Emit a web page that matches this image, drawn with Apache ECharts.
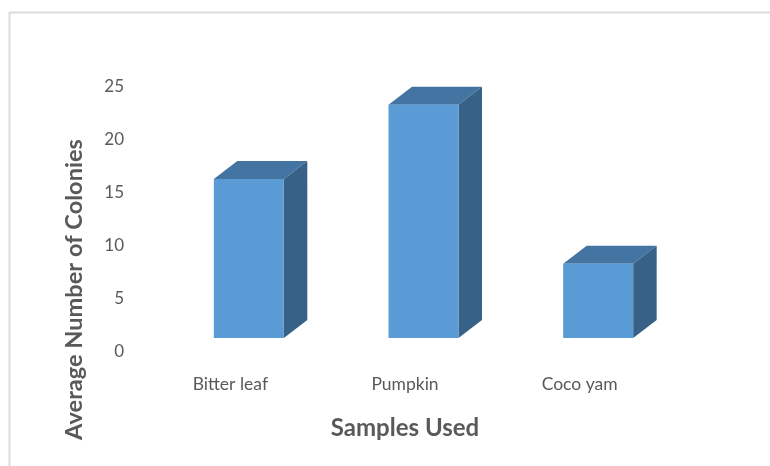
<!DOCTYPE html>
<html>
<head>
<meta charset="utf-8">
<style>html,body{margin:0;padding:0;background:#fff}#c{width:770px;height:466px}</style>
<script src="https://cdn.jsdelivr.net/npm/echarts@6/dist/echarts.min.js"></script>
</head>
<body>
<div id="c"></div>
<script>
const categories = ['Bitter leaf', 'Pumpkin', 'Coco yam'];
const colonies = [15, 22, 7];
const xTitle = 'Samples Used';
const yTitle = 'Average Number of Colonies';

const chart = echarts.init(document.getElementById('c'), null, {renderer: 'canvas'});
const DEPTH_X = 23.5, DEPTH_Y = 18, BAR_W = 70;

function renderBox(params, api) {
  const top = api.coord([api.value(0), api.value(1)]);
  const base = api.coord([api.value(0), 0]);
  const l = top[0] - BAR_W / 2 - 0.5, r = l + BAR_W, t = top[1], b = base[1];
  return {
    type: 'group',
    children: [
      {type: 'polygon', shape: {points: [[l, t], [r, t], [r + DEPTH_X, t - DEPTH_Y], [l + DEPTH_X, t - DEPTH_Y]]},
        style: {fill: '#4475a2'}},
      {type: 'polygon', shape: {points: [[r, t], [r + DEPTH_X, t - DEPTH_Y], [r + DEPTH_X, b - DEPTH_Y], [r, b]]},
        style: {fill: '#386188'}},
      {type: 'rect', shape: {x: l, y: t, width: BAR_W, height: b - t},
        style: {fill: '#5b9bd5'}}
    ]
  };
}

chart.setOption({
  backgroundColor: '#ffffff',
  animation: false,
  textStyle: {fontFamily: 'Lato'},
  grid: {left: 162, top: 73, width: 524, height: 265, containLabel: false},
  xAxis: {
    type: 'category',
    data: categories,
    axisLine: {show: false},
    axisTick: {show: false},
    axisLabel: {color: '#595959', fontSize: 17.5, fontFamily: 'Lato', margin: 37, padding: [0, 38, 0, 0]},
    name: xTitle,
    nameLocation: 'middle',
    nameGap: 78,
    nameTextStyle: {color: '#595959', fontSize: 24, fontWeight: 'bold', fontFamily: 'Lato', padding: [0, 38, 0, 0]}
  },
  yAxis: {
    type: 'value',
    min: 0,
    max: 25,
    interval: 5,
    splitLine: {show: false},
    axisLine: {show: false},
    axisTick: {show: false},
    axisLabel: {color: '#595959', fontSize: 17, fontFamily: 'Lato', margin: 38, verticalAlign: 'top', padding: [5, 0, 0, 0]},
    name: yTitle,
    nameLocation: 'middle',
    nameGap: 76,
    nameTextStyle: {color: '#595959', fontSize: 23.6, fontWeight: 'bold', fontFamily: 'Lato', padding: [0, 168, 0, 0]}
  },
  series: [{
    type: 'custom',
    renderItem: renderBox,
    encode: {x: 0, y: 1},
    data: colonies.map((v, i) => [i, v]),
    clip: false
  }],
  graphic: [
    {type: 'line', shape: {x1: 9.5, y1: 12.5, x2: 770, y2: 12.5}, style: {stroke: '#dcdcdc', lineWidth: 2}, silent: true},
    {type: 'line', shape: {x1: 9.5, y1: 12, x2: 9.5, y2: 466}, style: {stroke: '#dcdcdc', lineWidth: 2}, silent: true}
  ]
});
</script>
</body>
</html>
